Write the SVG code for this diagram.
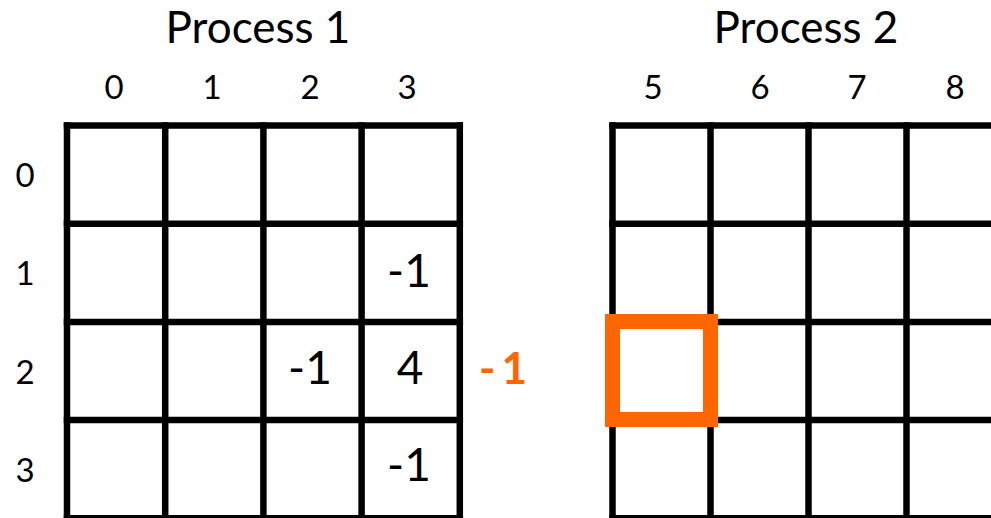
<svg xmlns="http://www.w3.org/2000/svg" width="991" height="518" viewBox="0 0 991 518">
<style>
.grid line{stroke:#000;stroke-width:6.5;stroke-linecap:butt}
.t{font-family:Lato,"Liberation Sans",sans-serif;fill:#000;text-anchor:middle}
.title{font-size:44px}
.lbl{font-size:33px}
.cell{font-size:46px}
.hl{fill:none;stroke:#FF6600;stroke-width:15}
.ot{font-family:Lato,"Liberation Sans",sans-serif;font-weight:bold;font-size:44px;fill:#FF6600;text-anchor:middle}
</style>
<rect width="991" height="518" fill="#fff"/>
<g id="process1">
  <text class="t title" x="258" y="43">Process 1</text>
  <g class="t lbl">
    <text x="114" y="99">0</text>
    <text x="212" y="99">1</text>
    <text x="310" y="99">2</text>
    <text x="407" y="99">3</text>
    <text x="25" y="187">0</text>
    <text x="25" y="285">1</text>
    <text x="25" y="384">2</text>
    <text x="25" y="482">3</text>
  </g>
  <g class="grid">
    <line x1="67" y1="122.25" x2="67" y2="522"/>
    <line x1="165.2" y1="122.25" x2="165.2" y2="522"/>
    <line x1="263.4" y1="122.25" x2="263.4" y2="522"/>
    <line x1="361.6" y1="122.25" x2="361.6" y2="522"/>
    <line x1="459.8" y1="122.25" x2="459.8" y2="522"/>
    <line x1="63.75" y1="125.5" x2="463.05" y2="125.5"/>
    <line x1="63.75" y1="223.7" x2="463.05" y2="223.7"/>
    <line x1="63.75" y1="321.9" x2="463.05" y2="321.9"/>
    <line x1="63.75" y1="420.1" x2="463.05" y2="420.1"/>
    <line x1="63.75" y1="518.3" x2="463.05" y2="518.3"/>
  </g>
  <g class="t cell">
    <text x="409" y="287">-1</text>
    <text x="310" y="384">-1</text>
    <text x="410" y="384">4</text>
    <text x="409" y="481">-1</text>
  </g>
</g>
<g id="halo-value">
  <text class="ot" x="506" y="384" letter-spacing="6">-1</text>
</g>
<g id="process2">
  <text class="t title" x="806" y="43">Process 2</text>
  <g class="t lbl">
    <text x="653" y="99">5</text>
    <text x="760" y="99">6</text>
    <text x="857" y="99">7</text>
    <text x="955" y="99">8</text>
  </g>
  <g class="grid">
    <line x1="612.5" y1="122.25" x2="612.5" y2="522"/>
    <line x1="710.5" y1="122.25" x2="710.5" y2="522"/>
    <line x1="808.5" y1="122.25" x2="808.5" y2="522"/>
    <line x1="906.5" y1="122.25" x2="906.5" y2="522"/>
    <line x1="1004.5" y1="122.25" x2="1004.5" y2="522"/>
    <line x1="609.25" y1="125.5" x2="995" y2="125.5"/>
    <line x1="609.25" y1="223.7" x2="995" y2="223.7"/>
    <line x1="609.25" y1="321.9" x2="995" y2="321.9"/>
    <line x1="609.25" y1="420.1" x2="995" y2="420.1"/>
    <line x1="609.25" y1="518.3" x2="995" y2="518.3"/>
  </g>
  <rect id="highlight" class="hl" x="612.5" y="321.5" width="98" height="98"/>
</g>
<g id="connectors"/>
</svg>
